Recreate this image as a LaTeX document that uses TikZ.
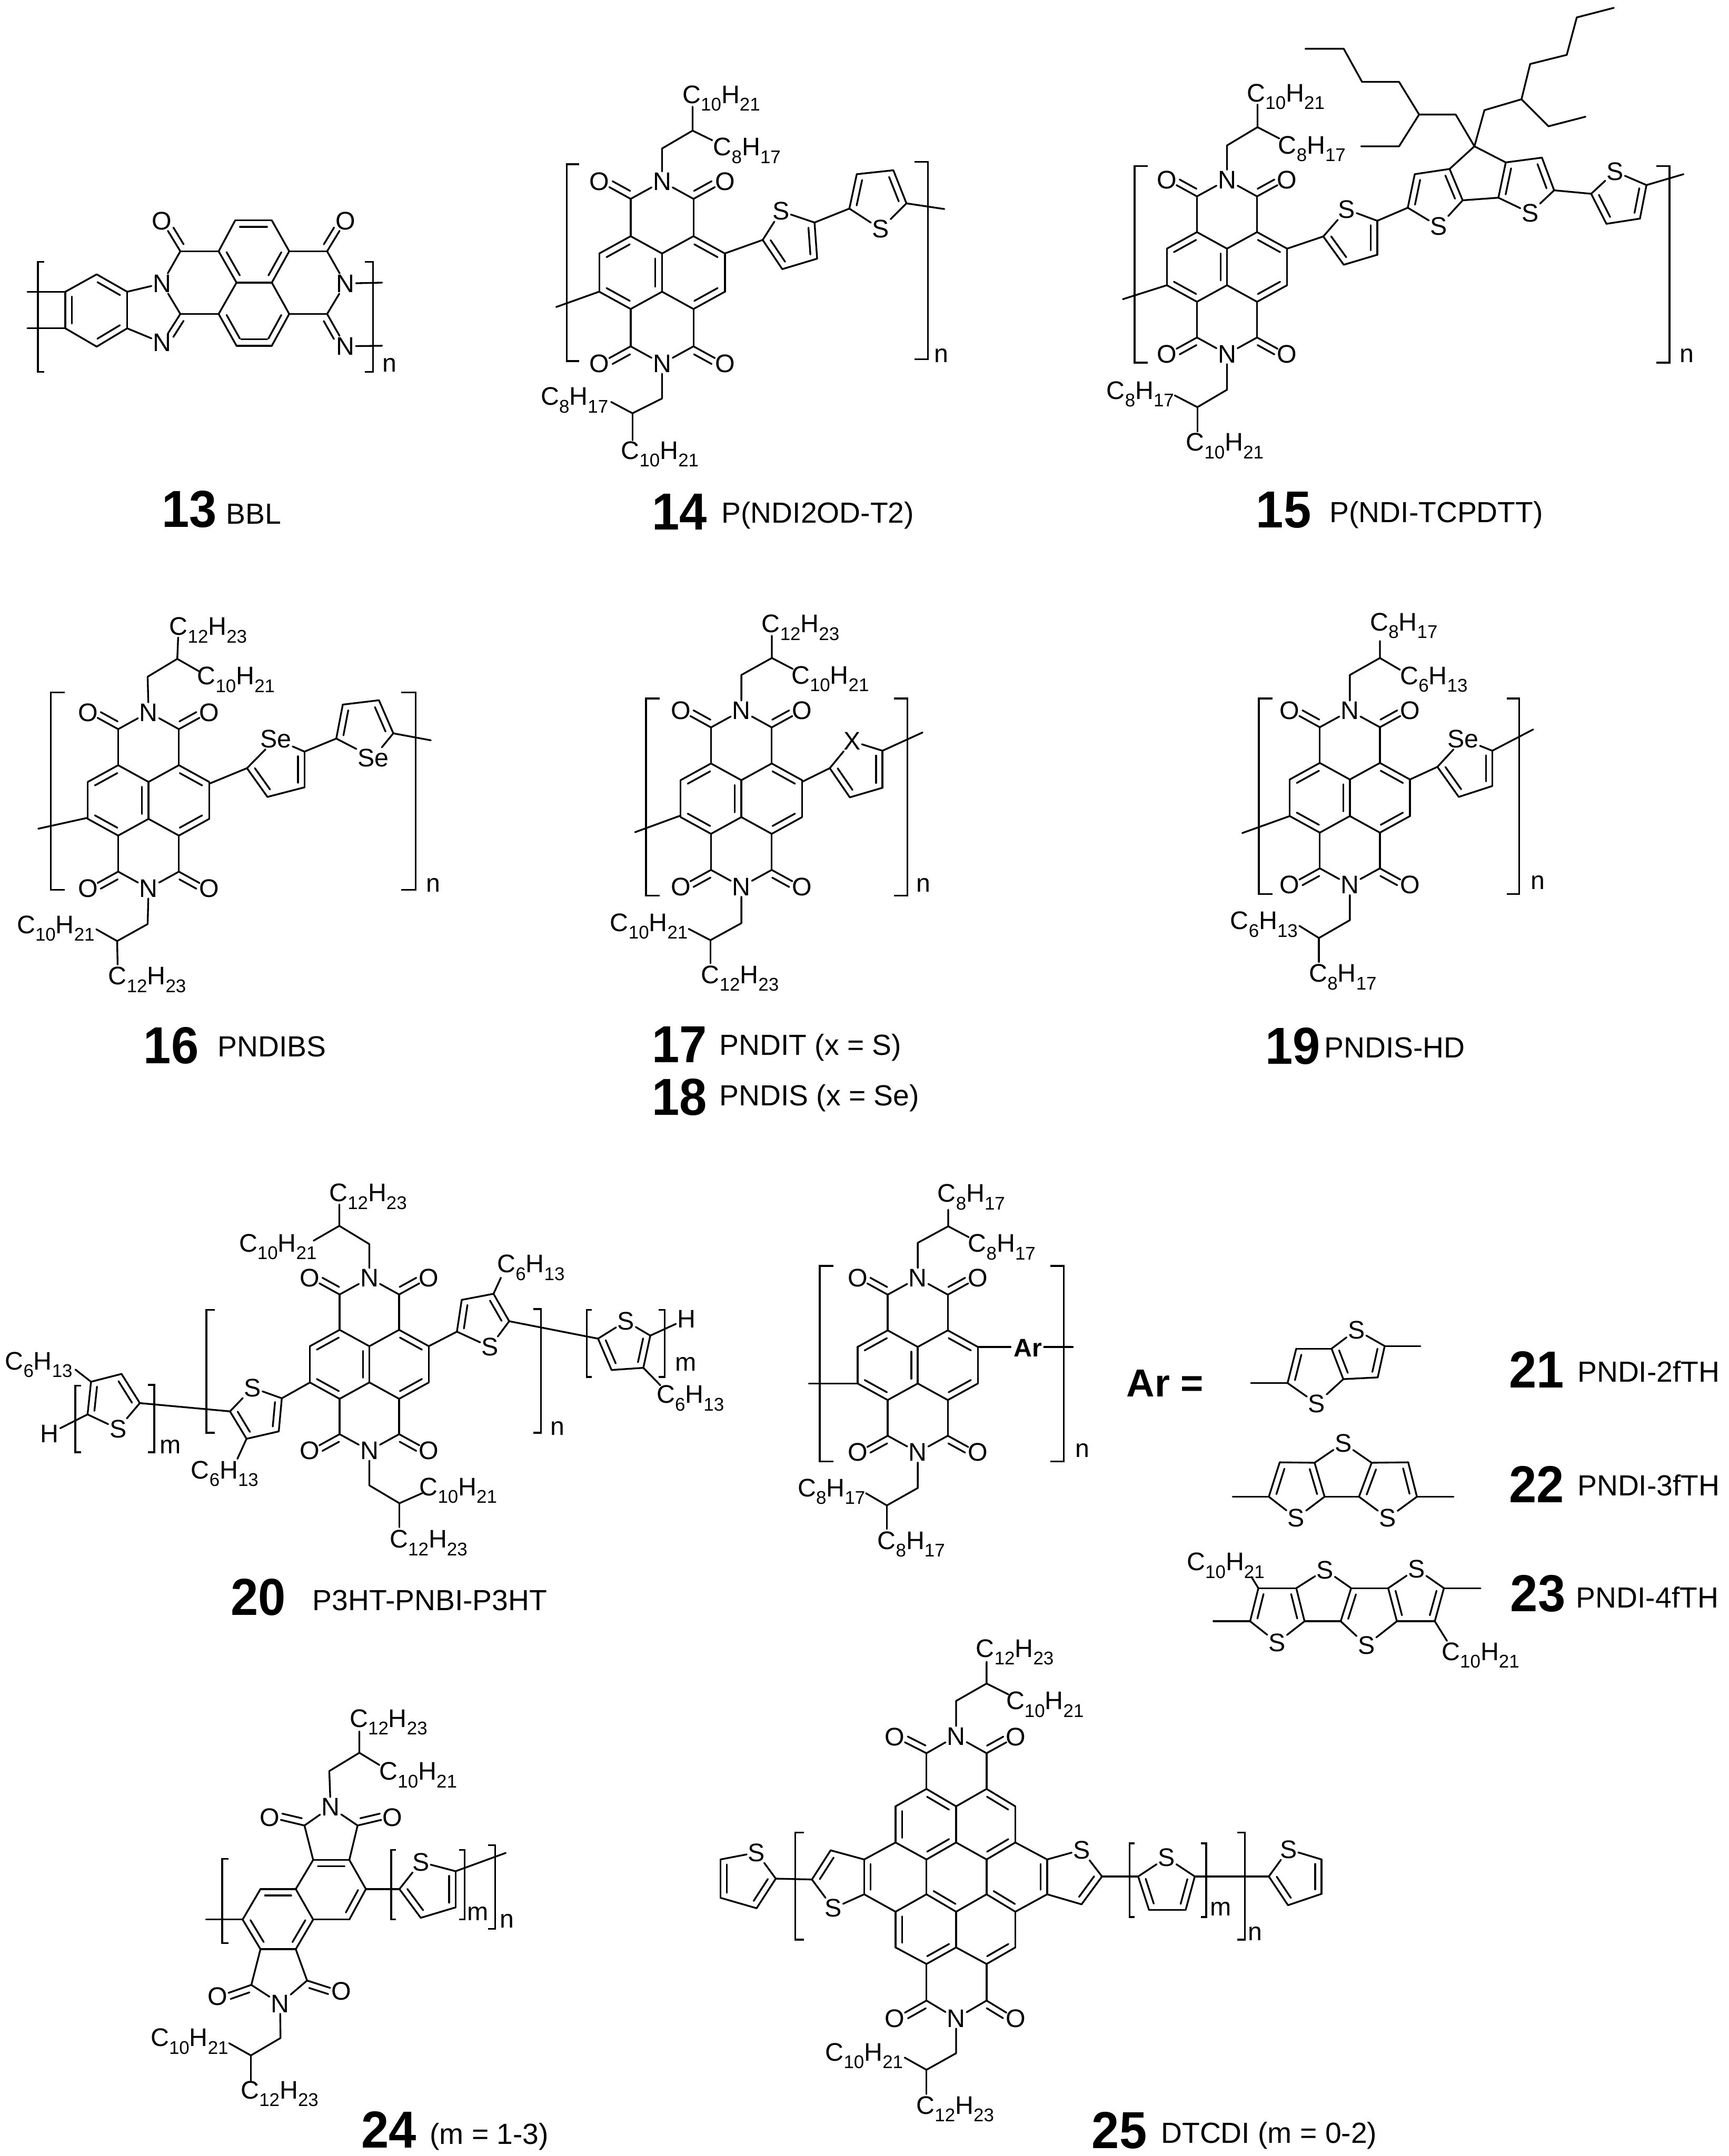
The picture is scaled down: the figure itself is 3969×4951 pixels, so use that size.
\documentclass[tikz,border=0pt]{standalone}
\usepackage{fontspec}
\usepackage{graphicx}
\setmainfont{Liberation Sans}
\usetikzlibrary{calc}
\newcommand\atomfont{\fontsize{16.6}{18}\selectfont}
\newcommand\sbx[1]{\raisebox{-.3em}{\fontsize{12}{12}\selectfont #1}}
\newcommand\CH[2]{C\sbx{#1}H\sbx{#2}}
\newcount\atc
\tikzset{
  bd/.style={line width=1.15pt,line cap=round,line join=round},
  atom/.style={inner sep=.7pt,font=\atomfont},
  num/.style={inner sep=0pt,font=\fontsize{34}{36}\selectfont\bfseries},
  capt/.style={inner sep=0pt,anchor=west,font=\fontsize{19}{21}\selectfont},
}
\newcommand\nm[1]{\scalebox{.95}[1]{#1}}
\newcommand\lab[2]{\global\advance\atc by 1 \node[atom](a\the\atc) at #1 {#2};}
\newcommand\at[3]{\node[atom](#1) at #2 {#3};}
\newcommand\bo[2]{\draw[bd] #1 -- #2;}
\newcommand\dbin[3]{\draw[bd] #1 -- #2;
  \path ($#1!#3!#2$) coordinate (dbP);
  \path ($(dbP)!4.2pt!#3$) coordinate (dbQ);
  \draw[bd] ($#1!.13!#2 + (dbQ) - (dbP)$) -- ($#2!.13!#1 + (dbQ) - (dbP)$);}
\newcommand\co[3]{\path ($#1!#3!#2$) coordinate (dbP);
  \path ($(dbP)!4.2pt!#3$) coordinate (dbQ);
  \draw[bd] #1 -- ($#1!.68!#2$);
  \draw[bd] ($#1!.12!#2 + (dbQ) - (dbP)$) -- ($#1!.68!#2 + (dbQ) - (dbP)$);}
\newcommand\thio[6]{\global\advance\atc by 1
  \edef\curS{a\the\atc}
  \node[atom](\curS) at #5 {#6};
  \path ($#2!.5!#5$) coordinate (thm);
  \dbin{#1}{#2}{(thm)}
  \bo{#2}{#3}
  \dbin{#3}{#4}{(thm)}
  \draw[bd] #4 -- (\curS);
  \draw[bd] (\curS) -- #1;}
\newcommand\brk[4]{\draw[line width=1.15pt] (#4,#2) -- (#1,#2) -- (#1,#3) -- (#4,#3);}
\newcommand\NDI[4]{\begin{scope}[shift={(#2,#3)},scale=#4]
  \at{#1Nt}{(0,-200)}{N}
  \at{#1Nb}{(0,200)}{N}
  \at{#1Oa}{(-138,-200)}{O}
  \at{#1Ob}{(138,-200)}{O}
  \at{#1Oc}{(-138,200)}{O}
  \at{#1Od}{(138,200)}{O}
  \draw[bd] (-69,-162) -- (#1Nt); \draw[bd] (69,-162) -- (#1Nt);
  \draw[bd] (-69,162) -- (#1Nb); \draw[bd] (69,162) -- (#1Nb);
  \co{(-69,-162)}{(-138,-200)}{(0,-200)}
  \co{(69,-162)}{(138,-200)}{(0,-200)}
  \co{(-69,162)}{(-138,200)}{(0,200)}
  \co{(69,162)}{(138,200)}{(0,200)}
  \bo{(-69,-162)}{(-69,-80)} \bo{(69,-162)}{(69,-80)}
  \bo{(-69,162)}{(-69,80)} \bo{(69,162)}{(69,80)}
  \dbin{(-69,-80)}{(-138,-42)}{(-69,0)}
  \dbin{(69,-80)}{(138,-42)}{(69,0)}
  \dbin{(-138,42)}{(-69,80)}{(-69,0)}
  \dbin{(138,42)}{(69,80)}{(69,0)}
  \dbin{(0,-42)}{(0,42)}{(-69,0)}
  \bo{(-138,-42)}{(-138,42)} \bo{(138,-42)}{(138,42)}
  \bo{(0,-42)}{(-69,-80)} \bo{(0,-42)}{(69,-80)}
  \bo{(0,42)}{(-69,80)} \bo{(0,42)}{(69,80)}
\end{scope}}
\begin{document}
\begin{tikzpicture}[x=0.01cm,y=-0.01cm]
\path[use as bounding box] (0,0) rectangle (3969,4951);
%% ---------- 13
\at{aO}{(372,508)}{O} \at{bO}{(793,508)}{O}
\at{aN}{(372,651)}{N} \at{bN}{(793,651)}{N}
\at{cN}{(372,787)}{N} \at{dN}{(793,795)}{N}
\dbin{(540,506)}{(624,506)}{(582,649)}
\bo{(540,506)}{(502,577)} \bo{(624,506)}{(664,577)}
\dbin{(502,577)}{(543,649)}{(582,577)}
\dbin{(664,577)}{(624,649)}{(582,577)}
\bo{(543,649)}{(624,649)} \bo{(543,649)}{(502,721)} \bo{(624,649)}{(664,721)}
\dbin{(502,721)}{(543,794)}{(582,721)}
\dbin{(664,721)}{(624,794)}{(582,721)}
\dbin{(543,794)}{(624,794)}{(582,649)}
\bo{(414,577)}{(502,577)} \bo{(664,577)}{(751,577)}
\bo{(414,721)}{(502,721)} \bo{(664,721)}{(751,721)}
\co{(414,577)}{(372,508)}{(502,577)}
\co{(751,577)}{(793,508)}{(664,577)}
\draw[bd] (414,577) -- (aN); \draw[bd] (aN) -- (414,721);
\draw[bd] (751,577) -- (bN); \draw[bd] (bN) -- (751,721);
\co{(414,721)}{(372,787)}{(502,721)}
\co{(751,721)}{(793,795)}{(664,721)}
\draw[bd] (aN) -- (292,670); \draw[bd] (cN) -- (292,754);
\bo{(292,670)}{(292,754)}
\dbin{(222,630)}{(292,670)}{(222,712)}
\dbin{(222,796)}{(292,754)}{(222,712)}
\dbin{(150,670)}{(150,754)}{(222,712)}
\bo{(222,630)}{(150,670)} \bo{(222,796)}{(150,754)}
\bo{(150,670)}{(63,670)} \bo{(150,754)}{(63,754)}
\draw[bd] (bN) -- (877,649); \draw[bd] (dN) -- (877,794);
\brk{87}{601}{854}{101} \brk{856}{601}{854}{838}
\lab{(894,838)}{n}
\node[num](n13) at (435,1170) {\nm{13}};
\node[capt](t13) at (519,1180) {BBL};
%% ---------- 14
\NDI{p}{1520}{626}{1.045}
\draw[bd] (pNt) -- (1520,341) -- (1590,300) -- (1590,245);
\bo{(1590,300)}{(1635,322)}
\lab{(1656,226)}{\CH{10}{21}} \lab{(1715,346)}{\CH{8}{17}}
\draw[bd] (pNb) -- (1520,915) -- (1452,949) -- (1403,923);
\bo{(1452,949)}{(1452,1011)}
\lab{(1319,919)}{\CH{8}{17}} \lab{(1515,1043)}{\CH{10}{21}}
\bo{(1375,670)}{(1277,705)}
\bo{(1664,582)}{(1751,551)}
\thio{(1751,551)}{(1796,618)}{(1876,594)}{(1870,511)}{(1793,485)}{S}
\bo{(1870,511)}{(1950,479)}
\thio{(1950,479)}{(1967,400)}{(2051,391)}{(2081,467)}{(2022,526)}{S}
\bo{(2081,467)}{(2168,480)}
\brk{1301}{377}{829}{1329} \brk{2130}{372}{825}{2100}
\lab{(2161,817)}{n}
\node[num](n14) at (1560,1176) {\nm{14}};
\node[capt](t14) at (1656,1183) {P(NDI2OD-T2)};
%% ---------- 15
\NDI{q}{2817}{613}{1}
\draw[bd] (qNt) -- (2817,334) -- (2887,292) -- (2887,240);
\bo{(2887,292)}{(2937,318)}
\lab{(2952,222)}{\CH{10}{21}} \lab{(3012,342)}{\CH{8}{17}}
\draw[bd] (qNb) -- (2817,895) -- (2749,935) -- (2697,908);
\bo{(2749,935)}{(2749,991)}
\lab{(2618,905)}{\CH{8}{17}} \lab{(2812,1024)}{\CH{10}{21}}
\bo{(2679,655)}{(2578,687)}
\bo{(2955,571)}{(3038,543)}
\thio{(3038,543)}{(3085,608)}{(3162,585)}{(3162,507)}{(3092,481)}{S}
\bo{(3162,507)}{(3232,477)}
\thio{(3232,477)}{(3248,400)}{(3328,388)}{(3358,460)}{(3303,520)}{S}
\thio{(3568,437)}{(3540,362)}{(3457,373)}{(3440,454)}{(3513,489)}{S}
\bo{(3358,460)}{(3440,454)}
\bo{(3328,388)}{(3385,336)} \bo{(3385,336)}{(3457,373)}
\bo{(3568,437)}{(3653,445)}
\thio{(3653,445)}{(3688,514)}{(3765,502)}{(3780,425)}{(3708,394)}{S}
\bo{(3780,425)}{(3865,400)}
\draw[bd] (3385,336) -- (3342,263) -- (3258,263) -- (3212,188) -- (3127,188) -- (3085,112) -- (2997,112);
\draw[bd] (3258,263) -- (3212,336) -- (3125,336);
\draw[bd] (3385,336) -- (3408,253) -- (3493,228) -- (3513,147) -- (3597,126) -- (3620,40) -- (3705,18);
\draw[bd] (3493,228) -- (3555,290) -- (3640,268);
\brk{2605}{381}{833}{2635} \brk{3833}{381}{833}{3803}
\lab{(3873,817)}{n}
\node[num](n15) at (2947,1171) {\nm{15}};
\node[capt](t15) at (3052,1182) {P(NDI-TCPDTT)};
%% ---------- 16
\NDI{r}{341}{1838}{1.01}
\draw[bd] (rNt) -- (339,1554) -- (407,1513) -- (409,1464);
\bo{(407,1513)}{(456,1541)}
\lab{(478,1447)}{\CH{12}{23}} \lab{(542,1561)}{\CH{10}{21}}
\draw[bd] (rNb) -- (339,2122) -- (269,2161) -- (221,2134);
\bo{(269,2161)}{(270,2215)}
\lab{(128,2132)}{\CH{10}{21}} \lab{(338,2250)}{\CH{12}{23}}
\bo{(201,1878)}{(88,1903)}
\bo{(482,1799)}{(567,1764)}
\thio{(567,1764)}{(614,1830)}{(699,1808)}{(699,1726)}{(633,1697)}{Se}
\bo{(699,1726)}{(772,1696)}
\thio{(772,1696)}{(787,1618)}{(870,1608)}{(903,1684)}{(857,1740)}{Se}
\bo{(903,1684)}{(989,1700)}
\brk{117}{1590}{2043}{149} \brk{954}{1590}{2043}{921}
\lab{(995,2032)}{n}
\node[num](n16) at (393,2401) {\nm{16}};
\node[capt](t16) at (499,2404) {PNDIBS};
%% ---------- 17 / 18
\NDI{s}{1702}{1834}{1.01}
\draw[bd] (sNt) -- (1702,1550) -- (1772,1511) -- (1772,1460);
\bo{(1772,1511)}{(1820,1536)}
\lab{(1838,1441)}{\CH{12}{23}} \lab{(1906,1559)}{\CH{10}{21}}
\draw[bd] (sNb) -- (1702,2120) -- (1631,2159) -- (1581,2133);
\bo{(1631,2159)}{(1631,2212)}
\lab{(1490,2127)}{\CH{10}{21}} \lab{(1699,2247)}{\CH{12}{23}}
\bo{(1562,1873)}{(1458,1911)}
\bo{(1842,1795)}{(1905,1764)}
\thio{(1905,1764)}{(1951,1831)}{(2026,1809)}{(2026,1724)}{(1956,1702)}{X}
\bo{(2026,1724)}{(2118,1682)}
\brk{1483}{1604}{2057}{1514} \brk{2083}{1604}{2057}{2053}
\lab{(2120,2032)}{n}
\node[num](n17) at (1560,2399) {\nm{17}};
\node[capt](t17) at (1651,2406) {PNDIT (x = S)};
\node[num](n18) at (1560,2519) {\nm{18}};
\node[capt](t18) at (1651,2522) {PNDIS (x = Se)};
%% ---------- 19
\NDI{u}{3099}{1832}{1}
\draw[bd] (uNt) -- (3099,1550) -- (3168,1511) -- (3168,1472);
\bo{(3168,1511)}{(3214,1538)}
\lab{(3223,1437)}{\CH{8}{17}} \lab{(3292,1560)}{\CH{6}{13}}
\draw[bd] (uNb) -- (3099,2113) -- (3028,2154) -- (2983,2126);
\bo{(3028,2154)}{(3028,2209)}
\lab{(2902,2123)}{\CH{6}{13}} \lab{(3083,2244)}{\CH{8}{17}}
\bo{(2961,1874)}{(2852,1913)}
\bo{(3237,1790)}{(3300,1761)}
\thio{(3300,1761)}{(3349,1830)}{(3426,1805)}{(3426,1724)}{(3359,1697)}{Se}
\bo{(3426,1724)}{(3520,1675)}
\brk{2890}{1604}{2053}{2921} \brk{3488}{1604}{2053}{3459}
\lab{(3530,2027)}{n}
\node[num](n19) at (2968,2402) {\nm{19}};
\node[capt](t19) at (3040,2406) {PNDIS-HD};
%% ---------- 20
\NDI{v}{848}{3133}{.99}
\draw[bd] (vNt) -- (848,2857) -- (779,2815) -- (779,2766);
\bo{(779,2815)}{(720,2849)}
\lab{(845,2748)}{\CH{12}{23}} \lab{(638,2863)}{\CH{10}{21}}
\draw[bd] (vNb) -- (848,3411) -- (917,3452) -- (969,3429);
\bo{(917,3452)}{(917,3507)}
\lab{(1052,3423)}{\CH{10}{21}} \lab{(984,3543)}{\CH{12}{23}}
\bo{(985,3091)}{(1049,3058)}
\thio{(1049,3058)}{(1060,2985)}{(1133,2971)}{(1169,3034)}{(1125,3093)}{S}
\bo{(1133,2971)}{(1150,2934)}
\lab{(1219,2911)}{\CH{6}{13}}
\bo{(1169,3034)}{(1373,3074)}
\thio{(1373,3074)}{(1404,3146)}{(1477,3141)}{(1493,3067)}{(1437,3034)}{S}
\at{hr}{(1576,3029)}{H}
\draw[bd] (1493,3067) -- (hr);
\bo{(1477,3141)}{(1516,3181)}
\lab{(1585,3211)}{\CH{6}{13}}
\bo{(711,3175)}{(647,3211)}
\thio{(647,3211)}{(640,3287)}{(566,3304)}{(528,3241)}{(580,3187)}{S}
\bo{(566,3304)}{(545,3350)}
\lab{(516,3384)}{\CH{6}{13}}
\bo{(528,3241)}{(321,3222)}
\thio{(321,3222)}{(279,3155)}{(209,3173)}{(201,3248)}{(271,3281)}{S}
\at{hl}{(114,3292)}{H}
\draw[bd] (201,3248) -- (hl);
\bo{(209,3173)}{(173,3145)}
\lab{(89,3134)}{\CH{6}{13}}
\brk{474}{3008}{3290}{493} \brk{1242}{3006}{3290}{1224}
\brk{173}{3182}{3335}{186} \brk{354}{3180}{3335}{340}
\brk{1347}{3008}{3162}{1359} \brk{1526}{3008}{3162}{1512}
\lab{(1280,3280)}{n} \lab{(391,3322)}{m} \lab{(1574,3133)}{m}
\node[num](n20) at (593,3668) {\nm{20}};
\node[capt](t20) at (717,3675) {P3HT-PNBI-P3HT};
%% ---------- 21-23 polymer
\NDI{w}{2107}{3135}{1}
\draw[bd] (wNt) -- (2107,2854) -- (2177,2816) -- (2177,2778);
\bo{(2177,2816)}{(2224,2841)}
\lab{(2230,2749)}{\CH{8}{17}} \lab{(2300,2864)}{\CH{8}{17}}
\draw[bd] (wNb) -- (2107,3417) -- (2036,3457) -- (1988,3429);
\bo{(2036,3457)}{(2036,3511)}
\lab{(1909,3425)}{\CH{8}{17}} \lab{(2092,3546)}{\CH{8}{17}}
\bo{(1969,3177)}{(1857,3177)}
\node[inner sep=1.6pt,font=\fontsize{16.6}{18}\selectfont\bfseries](war) at (2360,3096) {Ar};
\draw[bd] (2245,3093) -- (2320,3093); \draw[bd] (2397,3093) -- (2463,3093);
\brk{1882}{2907}{3356}{1913} \brk{2442}{2907}{3356}{2412}
\lab{(2485,3331)}{n}
\node[inner sep=0pt,font=\fontsize{25.5}{27}\selectfont\bfseries](arq) at (2675,3177) {Ar =};
%% 21
\at{s21a}{(3114,3054)}{S} \at{s21b}{(3023,3223)}{S}
\bo{(2872,3176)}{(2956,3176)}
\dbin{(2956,3176)}{(2976,3097)}{(3023,3140)}
\bo{(2976,3097)}{(3057,3097)}
\dbin{(3057,3097)}{(3084,3167)}{(3120,3110)}
\bo{(3084,3167)}{(3163,3163)}
\dbin{(3163,3163)}{(3179,3091)}{(3120,3110)}
\draw[bd] (3179,3091) -- (s21a); \draw[bd] (s21a) -- (3057,3097);
\draw[bd] (3084,3167) -- (s21b); \draw[bd] (s21b) -- (2956,3176);
\bo{(3179,3091)}{(3261,3091)}
\node[num](n21) at (3528,3145) {\nm{21}};
\node[capt](t21) at (3621,3149) {PNDI-2fTH};
%% 22
\at{s22a}{(3084,3314)}{S} \at{s22b}{(2976,3486)}{S} \at{s22c}{(3186,3486)}{S}
\bo{(2830,3437)}{(2913,3437)}
\dbin{(2913,3437)}{(2938,3358)}{(2980,3410)}
\bo{(2938,3358)}{(3018,3359)}
\dbin{(3018,3359)}{(3041,3437)}{(2980,3410)}
\bo{(3041,3437)}{(3120,3437)}
\dbin{(3120,3437)}{(3149,3359)}{(3190,3410)}
\bo{(3149,3359)}{(3233,3358)}
\dbin{(3233,3358)}{(3253,3437)}{(3190,3410)}
\bo{(3253,3437)}{(3337,3437)}
\draw[bd] (3018,3359) -- (s22a); \draw[bd] (s22a) -- (3149,3359);
\draw[bd] (3041,3437) -- (s22b); \draw[bd] (s22b) -- (2913,3437);
\draw[bd] (3120,3437) -- (s22c); \draw[bd] (s22c) -- (3253,3437);
\node[num](n22) at (3528,3408) {\nm{22}};
\node[capt](t22) at (3621,3411) {PNDI-3fTH};
%% 23
\at{s23a}{(2932,3772)}{S} \at{s23b}{(3042,3605)}{S} \at{s23c}{(3137,3778)}{S} \at{s23d}{(3252,3603)}{S}
\bo{(2786,3723)}{(2870,3723)}
\dbin{(2870,3723)}{(2889,3647)}{(2932,3690)}
\bo{(2889,3647)}{(2976,3647)}
\dbin{(2976,3647)}{(2995,3723)}{(2932,3690)}
\bo{(2995,3723)}{(3078,3723)}
\dbin{(3102,3647)}{(3078,3723)}{(3145,3690)}
\bo{(3102,3647)}{(3187,3647)}
\dbin{(3187,3647)}{(3207,3723)}{(3252,3690)}
\bo{(3207,3723)}{(3294,3723)}
\dbin{(3294,3723)}{(3315,3647)}{(3252,3690)}
\bo{(3315,3647)}{(3399,3647)}
\draw[bd] (2995,3723) -- (s23a); \draw[bd] (s23a) -- (2870,3723);
\draw[bd] (2976,3647) -- (s23b); \draw[bd] (s23b) -- (3102,3647);
\draw[bd] (3078,3723) -- (s23c); \draw[bd] (s23c) -- (3207,3723);
\draw[bd] (3187,3647) -- (s23d); \draw[bd] (s23d) -- (3315,3647);
\bo{(2889,3647)}{(2873,3621)} \bo{(3294,3723)}{(3322,3768)}
\lab{(2814,3595)}{\CH{10}{21}} \lab{(3399,3801)}{\CH{10}{21}}
\node[num](n23) at (3531,3660) {\nm{23}};
\node[capt](t23) at (3618,3668) {PNDI-4fTH};
%% ---------- 24
\at{x1}{(759,4150)}{N} \at{x2}{(643,4601)}{N}
\at{xo1}{(619,4173)}{O} \at{xo2}{(901,4173)}{O} \at{xo3}{(500,4585)}{O} \at{xo4}{(783,4573)}{O}
\dbin{(598,4338)}{(679,4338)}{(640,4408)}
\bo{(679,4338)}{(719,4271)}
\dbin{(719,4271)}{(802,4271)}{(760,4338)}
\bo{(802,4271)}{(840,4338)}
\dbin{(840,4338)}{(802,4408)}{(760,4338)}
\bo{(802,4408)}{(719,4408)}
\dbin{(719,4408)}{(679,4476)}{(640,4408)}
\bo{(679,4476)}{(598,4476)}
\dbin{(598,4476)}{(557,4408)}{(640,4408)}
\bo{(557,4408)}{(598,4338)} \bo{(679,4338)}{(719,4408)}
\bo{(719,4271)}{(699,4192)} \bo{(802,4271)}{(821,4192)}
\draw[bd] (699,4192) -- (x1); \draw[bd] (x1) -- (821,4192);
\co{(699,4192)}{(619,4173)}{(759,4150)}
\co{(821,4192)}{(901,4173)}{(759,4150)}
\bo{(598,4476)}{(577,4558)} \bo{(679,4476)}{(705,4548)}
\draw[bd] (577,4558) -- (x2); \draw[bd] (x2) -- (705,4548);
\co{(577,4558)}{(500,4585)}{(643,4601)}
\co{(705,4548)}{(783,4573)}{(643,4560)}
\draw[bd] (x1) -- (756,4067) -- (825,4025) -- (825,3976);
\bo{(825,4025)}{(871,4053)}
\lab{(892,3955)}{\CH{12}{23}} \lab{(960,4076)}{\CH{10}{21}}
\draw[bd] (x2) -- (644,4680) -- (576,4720) -- (526,4692);
\bo{(576,4720)}{(576,4780)}
\lab{(435,4688)}{\CH{10}{21}} \lab{(642,4808)}{\CH{12}{23}}
\bo{(557,4408)}{(473,4408)} \bo{(840,4338)}{(917,4338)}
\thio{(917,4338)}{(966,4404)}{(1046,4380)}{(1046,4297)}{(966,4276)}{S}
\bo{(1046,4297)}{(1161,4255)}
\brk{510}{4269}{4462}{524} \brk{1137}{4237}{4429}{1121}
\brk{898}{4248}{4408}{909} \brk{1067}{4248}{4408}{1054}
\lab{(1164,4411)}{n} \lab{(1097,4394)}{m}
\node[num](n24) at (893,4890) {\nm{24}};
\node[capt](t24) at (986,4906) {(m = 1-3)};
%% ---------- 25
\at{y1}{(2195,3987)}{N} \at{y2}{(2195,4635)}{N}
\at{yo1}{(2054,3989)}{O} \at{yo2}{(2332,3989)}{O} \at{yo3}{(2054,4635)}{O} \at{yo4}{(2332,4635)}{O}
\draw[bd] (2127,4026) -- (y1); \draw[bd] (y1) -- (2265,4026);
\draw[bd] (2127,4594) -- (y2); \draw[bd] (y2) -- (2265,4594);
\co{(2127,4026)}{(2054,3989)}{(2195,3987)}
\co{(2265,4026)}{(2332,3989)}{(2195,3987)}
\co{(2127,4594)}{(2054,4635)}{(2195,4635)}
\co{(2265,4594)}{(2332,4635)}{(2195,4635)}
\bo{(2127,4026)}{(2127,4108)} \bo{(2265,4026)}{(2265,4108)}
\bo{(2127,4594)}{(2127,4510)} \bo{(2265,4594)}{(2265,4510)}
\dbin{(2127,4108)}{(2195,4148)}{(2127,4190)}
\dbin{(2265,4108)}{(2331,4148)}{(2265,4190)}
\bo{(2127,4108)}{(2056,4148)} \bo{(2265,4108)}{(2195,4148)}
\dbin{(2056,4148)}{(2056,4231)}{(2127,4190)}
\bo{(2195,4148)}{(2195,4231)} \bo{(2331,4148)}{(2331,4231)}
\bo{(2056,4231)}{(2127,4270)}
\dbin{(2195,4231)}{(2127,4270)}{(2127,4190)}
\bo{(2195,4231)}{(2265,4270)}
\dbin{(2331,4231)}{(2265,4270)}{(2265,4190)}
\bo{(2127,4270)}{(2127,4350)} \bo{(2265,4270)}{(2265,4350)}
\dbin{(2127,4350)}{(2195,4390)}{(2195,4310)}
\dbin{(2265,4350)}{(2331,4390)}{(2331,4310)}
\bo{(2127,4350)}{(2056,4390)} \bo{(2265,4350)}{(2195,4390)}
\dbin{(2056,4390)}{(2056,4472)}{(2127,4430)}
\bo{(2195,4390)}{(2195,4472)} \bo{(2331,4390)}{(2331,4472)}
\dbin{(2195,4472)}{(2127,4510)}{(2127,4430)}
\dbin{(2331,4472)}{(2265,4510)}{(2265,4430)}
\bo{(2056,4472)}{(2127,4510)} \bo{(2195,4472)}{(2265,4510)}
\bo{(2056,4231)}{(1984,4270)} \bo{(2056,4390)}{(1984,4350)}
\bo{(2331,4231)}{(2404,4270)} \bo{(2331,4390)}{(2404,4350)}
\dbin{(1984,4270)}{(1984,4350)}{(2056,4310)}
\dbin{(2404,4270)}{(2404,4350)}{(2331,4310)}
\at{ys1}{(1913,4382)}{S} \at{ys2}{(2483,4248)}{S}
\bo{(1984,4270)}{(1907,4249)}
\dbin{(1907,4249)}{(1864,4316)}{(1930,4315)}
\draw[bd] (1864,4316) -- (ys1); \draw[bd] (ys1) -- (1984,4350);
\bo{(2404,4350)}{(2483,4373)}
\dbin{(2483,4373)}{(2530,4309)}{(2460,4310)}
\draw[bd] (2530,4309) -- (ys2); \draw[bd] (ys2) -- (2404,4270);
\bo{(1781,4314)}{(1864,4316)}
\thio{(1781,4314)}{(1737,4382)}{(1654,4358)}{(1654,4270)}{(1737,4254)}{S}
\bo{(2530,4309)}{(2613,4309)}
\thio{(2613,4309)}{(2638,4386)}{(2722,4386)}{(2743,4309)}{(2678,4266)}{S}
\bo{(2743,4309)}{(2913,4309)}
\thio{(2913,4309)}{(2957,4375)}{(3034,4349)}{(3034,4270)}{(2958,4247)}{S}
\draw[bd] (y1) -- (2195,3906) -- (2265,3866) -- (2265,3816);
\bo{(2265,3866)}{(2315,3891)}
\lab{(2330,3794)}{\CH{12}{23}} \lab{(2399,3914)}{\CH{10}{21}}
\draw[bd] (y2) -- (2195,4715) -- (2127,4753) -- (2077,4725);
\bo{(2127,4753)}{(2127,4809)}
\lab{(1984,4721)}{\CH{10}{21}} \lab{(2193,4843)}{\CH{12}{23}}
\brk{1826}{4208}{4454}{1846} \brk{2858}{4208}{4454}{2841}
\brk{2593}{4233}{4402}{2605} \brk{2769}{4233}{4402}{2757}
\lab{(2802,4383)}{m} \lab{(2882,4440)}{n}
\node[num](n25) at (2570,4892) {\nm{25}};
\node[capt](t25) at (2665,4904) {DTCDI (m = 0-2)};
\end{tikzpicture}
\end{document}
